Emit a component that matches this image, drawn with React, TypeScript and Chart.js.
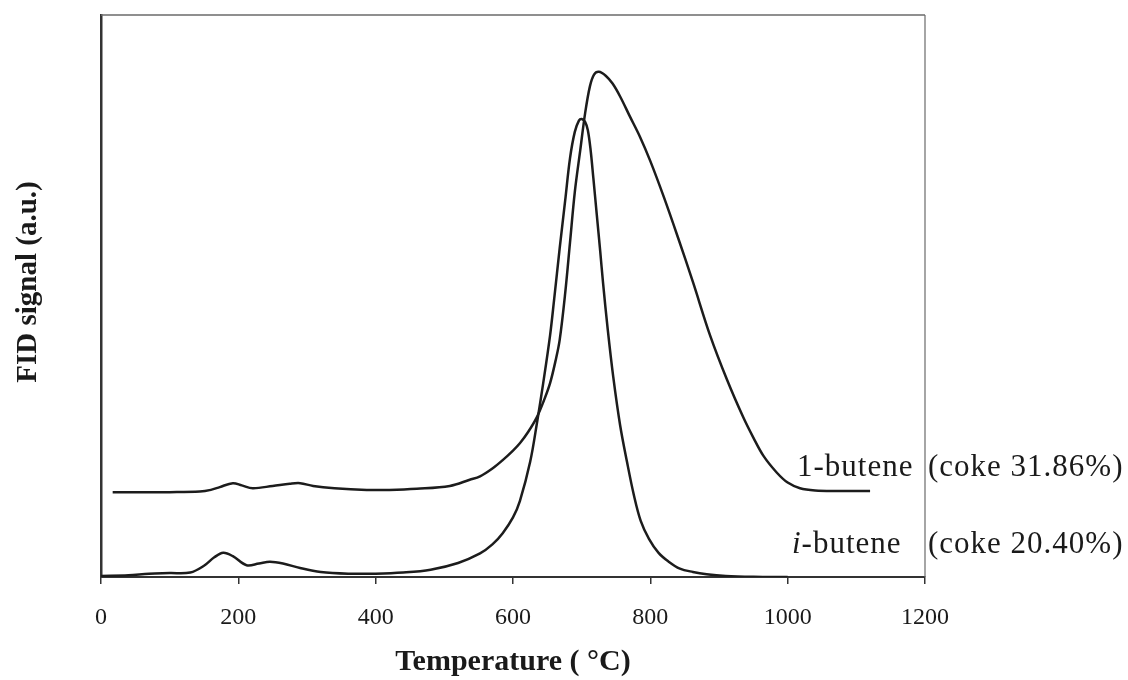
import React, { useEffect, useRef } from "react";
import { Chart, registerables } from "chart.js";

Chart.register(...registerables);

// Temperature-programmed oxidation profiles (FID signal, arbitrary units)
const iButeneTemp = [
  0, 40, 70, 100, 130, 150, 165, 178, 192, 212, 230, 246, 265, 290, 320, 360, 400, 440, 480, 520,
  552, 570, 585, 600, 610, 625, 635, 644, 654, 660, 668, 676, 683, 690, 696, 700, 705, 709, 713,
  717, 722, 727, 731, 738, 746, 756, 766, 776, 786, 798, 812, 826, 843, 862, 882, 910, 950, 1000,
];
const iButeneSignal = [
  0.2, 0.3, 0.6, 0.7, 0.8, 2.0, 3.5, 4.3, 3.7, 2.1, 2.4, 2.7, 2.4, 1.6, 0.9, 0.6, 0.6, 0.8, 1.3, 2.5,
  4.2, 5.8, 7.8, 10.6, 13.5, 20.5, 27.5, 34.5, 43.0, 49.5, 58.5, 67.0, 74.5, 79.2, 81.2, 81.5, 81.0,
  79.5, 76.0, 71.0, 64.5, 58.0, 52.5, 44.0, 35.6, 27.0, 20.5, 14.6, 10.0, 6.8, 4.3, 2.8, 1.5, 0.9,
  0.5, 0.2, 0.05, 0,
];

const oneButeneTemp = [
  17, 60, 100, 144, 160, 173, 192, 205, 221, 250, 275, 290, 309, 340, 387, 420, 460, 508, 537, 552,
  570, 585, 600, 610, 622, 635, 645, 654, 662, 668, 676, 683, 690, 698, 705, 712, 718, 725, 735,
  745, 756, 770, 785, 800, 820, 840, 862, 887, 912, 935, 950, 965, 984, 1000, 1018, 1040, 1070, 1120,
];
const oneButeneSignal = [
  15.1, 15.1, 15.1, 15.2, 15.5, 16.0, 16.7, 16.3, 15.8, 16.2, 16.6, 16.7, 16.2, 15.8, 15.5, 15.5,
  15.7, 16.2, 17.3, 17.9, 19.3, 20.8, 22.5, 23.8, 25.8, 28.5, 31.4, 34.5, 38.5, 42.2, 50.5, 59.5,
  68.5, 76.0, 82.5, 87.3, 89.4, 89.9, 89.2, 87.8, 85.5, 82.0, 78.3, 74.0, 67.5, 60.5, 52.5, 43.0,
  35.0, 28.5, 24.8, 21.5, 18.6, 16.8, 15.8, 15.4, 15.3, 15.3,
];

const xTickValues = [0, 200, 400, 600, 800, 1000, 1200];

const seriesLabels = [
  { name: "1-butene", italicPrefix: "", coke: "(coke 31.86%)", y: 468, x: 797 },
  { name: "-butene", italicPrefix: "i", coke: "(coke 20.40%)", y: 545, x: 792 },
];

const yTitle = "FID signal (a.u.)";

const SERIF = '"Liberation Serif", "Times New Roman", serif';
const INK = "#1c1c1c";

const toPoints = (xs: number[], ys: number[]) => xs.map((x, i) => ({ x, y: ys[i] }));

// Frame (top/right), vertical axis title and the curve annotations on the right
const annotations = {
  id: "annotations",
  afterDraw(chart: any) {
    const { ctx, chartArea } = chart;
    ctx.save();
    ctx.strokeStyle = "#6a6a6a";
    ctx.lineWidth = 1.5;
    ctx.beginPath();
    ctx.moveTo(chartArea.left, chartArea.top);
    ctx.lineTo(chartArea.right, chartArea.top);
    ctx.stroke();
    ctx.lineWidth = 1.2;
    ctx.beginPath();
    ctx.moveTo(chartArea.right, chartArea.top);
    ctx.lineTo(chartArea.right, chartArea.bottom);
    ctx.stroke();

    ctx.fillStyle = "#1a1a1a";
    ctx.textBaseline = "middle";

    ctx.save();
    ctx.translate(29, 282);
    ctx.rotate(-Math.PI / 2);
    ctx.textAlign = "center";
    ctx.font = `bold 29px ${SERIF}`;
    ctx.fillText(yTitle, 0, 0);
    ctx.restore();

    ctx.textAlign = "left";
    (ctx as any).letterSpacing = "1px";
    for (const s of seriesLabels) {
      let x = s.x;
      if (s.italicPrefix) {
        ctx.font = `italic 31px ${SERIF}`;
        ctx.fillText(s.italicPrefix, x, s.y);
        x += ctx.measureText(s.italicPrefix).width;
      }
      ctx.font = `31px ${SERIF}`;
      ctx.fillText(s.name, x, s.y);
      ctx.fillText(s.coke, chartArea.right + 3, s.y);
    }
    ctx.restore();
  },
};

export default function App() {
  const canvasRef = useRef<HTMLCanvasElement | null>(null);

  useEffect(() => {
    const canvas = canvasRef.current;
    if (!canvas) return;
    const chart = new Chart(canvas, {
      type: "line",
      data: {
        datasets: [
          {
            label: "1-butene",
            data: toPoints(oneButeneTemp, oneButeneSignal),
            borderColor: INK,
            borderWidth: 2.5,
            pointRadius: 0,
            tension: 0.35,
            fill: false,
          },
          {
            label: "i-butene",
            data: toPoints(iButeneTemp, iButeneSignal),
            borderColor: INK,
            borderWidth: 2.5,
            pointRadius: 0,
            tension: 0.35,
            fill: false,
          },
        ],
      },
      options: {
        responsive: false,
        animation: false,
        layout: { padding: { top: 15, right: 203, left: 0, bottom: 0 } },
        plugins: { legend: { display: false }, tooltip: { enabled: false } },
        scales: {
          x: {
            type: "linear",
            min: 0,
            max: 1200,
            afterFit: (scale: any) => {
              scale.height = 103;
            },
            afterBuildTicks: (scale: any) => {
              scale.ticks = xTickValues.map((v) => ({ value: v }));
            },
            ticks: {
              color: "#1a1a1a",
              font: { family: SERIF, size: 24 },
              padding: 19,
              maxRotation: 0,
              callback: (v: any) => String(v),
            },
            grid: {
              drawOnChartArea: false,
              drawTicks: true,
              tickLength: 7,
              color: "#333",
              lineWidth: 1.5,
            },
            border: { display: true, color: "#333", width: 2 },
            title: {
              display: true,
              text: "Temperature ( °C)",
              color: "#1a1a1a",
              font: { family: SERIF, size: 30, weight: "bold", lineHeight: 1.2 },
              padding: { top: 0, bottom: 0 },
            },
          },
          y: {
            type: "linear",
            min: 0,
            max: 100,
            afterFit: (scale: any) => {
              scale.width = 101;
            },
            ticks: { display: false },
            grid: { drawOnChartArea: false, drawTicks: false },
            border: { display: true, color: "#333", width: 2.5 },
            title: { display: false },
          },
        },
      },
      plugins: [annotations],
    });
    return () => chart.destroy();
  }, []);

  return (
    <div style={{ position: "absolute", left: 0, top: 0, width: 1128, height: 680, background: "#fff" }}>
      <canvas ref={canvasRef} width={1128} height={680} style={{ display: "block" }} />
    </div>
  );
}
